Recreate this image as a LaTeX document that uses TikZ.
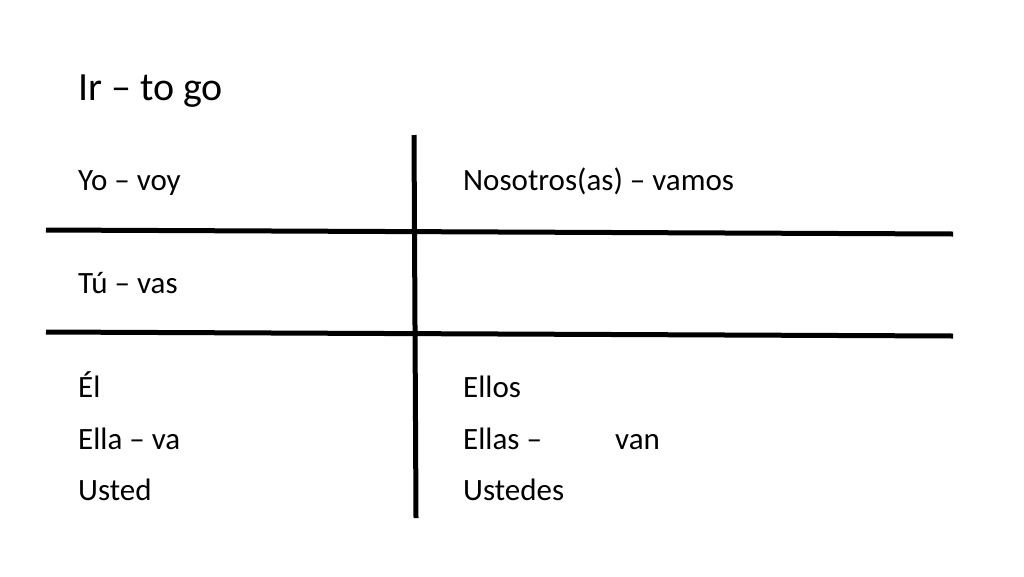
\documentclass[tikz,border=0pt]{standalone}
\usepackage{fontspec}
\setmainfont{Carlito}
\begin{document}
\begin{tikzpicture}[x=1pt,y=-1pt,
  cell/.style={anchor=base west,inner sep=0pt,font=\fontsize{31}{37}\selectfont},
  rule/.style={line width=5pt}]
\useasboundingbox (0,0) rectangle (1024,576);
\node[anchor=base west,inner sep=0pt,font=\fontsize{40}{48}\selectfont] (title) at (78,100) {Ir – to go};
\coordinate (vt) at (414,135); \coordinate (vb) at (416,518);
\coordinate (h1l) at (46,230); \coordinate (h1r) at (953,234);
\coordinate (h2l) at (46,332); \coordinate (h2r) at (953,336);
\draw[rule] (vt) -- (vb);
\draw[rule] (h1l) -- (h1r);
\draw[rule] (h2l) -- (h2r);
\node[cell] (yo) at (78,190) {Yo – voy};
\node[cell] (nos) at (463,190) {Nosotros(as) – vamos};
\node[cell] (tu) at (78,293) {Tú – vas};
\node[cell] (el) at (78,397) {Él};
\node[cell] (ella) at (78,449) {Ella – va};
\node[cell] (usted) at (78,500) {Usted};
\node[cell] (ellos) at (463,397) {Ellos};
\node[cell] (ellas) at (463,449) {Ellas –};
\node[cell] (van) at (615,449) {van};
\node[cell] (ustedes) at (463,500) {Ustedes};
\end{tikzpicture}
\end{document}
